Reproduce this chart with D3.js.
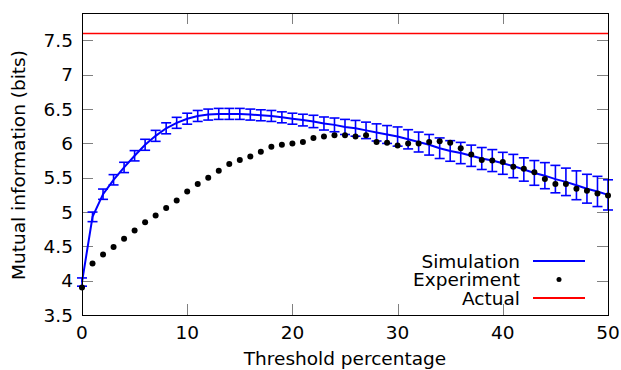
<!DOCTYPE html>
<html>
<head>
<meta charset="utf-8">
<style>
  body { margin: 0; background: #fff; }
  text { font-family: "DejaVu Sans", sans-serif; fill: #000; }
</style>
</head>
<body>
<svg width="621" height="370"></svg>
<script src="https://d3js.org/d3.v7.min.js"></script>
<script>
// threshold percentages 0..50
var thresholds = d3.range(0, 51);

var simulation = [3.98, 4.93, 5.26, 5.47, 5.65, 5.82, 5.98, 6.11, 6.22, 6.30,
  6.36, 6.40, 6.42, 6.43, 6.43, 6.43, 6.42, 6.41, 6.40, 6.38,
  6.36, 6.34, 6.32, 6.29, 6.27, 6.24, 6.22, 6.19, 6.16, 6.13,
  6.10, 6.06, 6.02, 5.98, 5.93, 5.89, 5.86, 5.82, 5.78, 5.75,
  5.71, 5.67, 5.62, 5.57, 5.53, 5.48, 5.44, 5.39, 5.34, 5.30, 5.25];

var simError = [0.06, 0.07, 0.075, 0.075, 0.075, 0.075, 0.08, 0.08, 0.08, 0.08,
  0.08, 0.08, 0.08, 0.08, 0.08, 0.08, 0.08, 0.08, 0.08, 0.08,
  0.08, 0.085, 0.09, 0.095, 0.10, 0.11, 0.115, 0.12, 0.125, 0.13,
  0.14, 0.14, 0.145, 0.15, 0.15, 0.15, 0.155, 0.155, 0.16, 0.16,
  0.16, 0.17, 0.17, 0.18, 0.19, 0.20, 0.20, 0.21, 0.21, 0.22, 0.22];

var experiment = [3.90, 4.25, 4.38, 4.49, 4.61, 4.73, 4.85, 4.95, 5.06, 5.17,
  5.30, 5.41, 5.50, 5.60, 5.70, 5.76, 5.81, 5.88, 5.95, 5.98,
  6.00, 6.02, 6.08, 6.10, 6.12, 6.12, 6.10, 6.12, 6.02, 6.01,
  5.97, 6.00, 6.00, 6.02, 6.03, 6.01, 5.93, 5.84, 5.76, 5.75,
  5.73, 5.66, 5.63, 5.58, 5.48, 5.41, 5.41, 5.34, 5.31, 5.27, 5.24];

var actual = 7.6;

var xTicks = [0, 10, 20, 30, 40, 50];
var yTicks = [3.5, 4, 4.5, 5, 5.5, 6, 6.5, 7, 7.5];

var svg = d3.select('svg');
var pLeft = 82, pRight = 608, pTop = 13, pBottom = 315;
var fs = 18.5;

var x = d3.scaleLinear().domain([0, 50]).range([pLeft, pRight]);
var y = d3.scaleLinear().domain([3.5, 7.9]).range([pBottom, pTop]);

var tickLen = 11;

// ticks (inward, mirrored)
var ticks = svg.append('g').attr('stroke', '#808080').attr('stroke-width', 1);
yTicks.forEach(function(v) {
  var yy = Math.round(y(v)) + 0.5;
  ticks.append('line').attr('x1', pLeft).attr('x2', pLeft + tickLen).attr('y1', yy).attr('y2', yy);
  ticks.append('line').attr('x1', pRight).attr('x2', pRight - tickLen).attr('y1', yy).attr('y2', yy);
});
xTicks.forEach(function(v) {
  var xx = Math.round(x(v)) + 0.5;
  ticks.append('line').attr('y1', pBottom).attr('y2', pBottom - tickLen).attr('x1', xx).attr('x2', xx);
  ticks.append('line').attr('y1', pTop).attr('y2', pTop + tickLen).attr('x1', xx).attr('x2', xx);
});

// tick labels
svg.append('g').selectAll('text').data(yTicks).enter().append('text')
  .attr('x', pLeft - 9).attr('y', function(d) { return y(d); })
  .attr('dy', '0.36em').attr('text-anchor', 'end').attr('font-size', fs)
  .text(function(d) { return d; });

svg.append('g').selectAll('text').data(xTicks).enter().append('text')
  .attr('x', function(d) { return x(d); }).attr('y', pBottom + 24)
  .attr('text-anchor', 'middle').attr('font-size', fs)
  .text(function(d) { return d; });

// axis titles
svg.append('text').attr('x', (pLeft + pRight) / 2).attr('y', 365)
  .attr('text-anchor', 'middle').attr('font-size', fs).text('Threshold percentage');
svg.append('text').attr('transform', 'translate(25,165) rotate(-90)')
  .attr('text-anchor', 'middle').attr('font-size', fs).text('Mutual information (bits)');

// actual line
svg.append('line').attr('x1', pLeft).attr('x2', pRight)
  .attr('y1', y(actual)).attr('y2', y(actual))
  .attr('stroke', '#ff0000').attr('stroke-width', 1.5);

// simulation error bars
var eb = svg.append('g').attr('stroke', '#0000ff').attr('stroke-width', 1.6);
thresholds.forEach(function(t, i) {
  var cx = x(t), lo = y(simulation[i] - simError[i]), hi = y(simulation[i] + simError[i]);
  eb.append('line').attr('x1', cx).attr('x2', cx).attr('y1', lo).attr('y2', hi);
  eb.append('line').attr('x1', cx - 5).attr('x2', cx + 5).attr('y1', lo).attr('y2', lo);
  eb.append('line').attr('x1', cx - 5).attr('x2', cx + 5).attr('y1', hi).attr('y2', hi);
});

var line = d3.line()
  .x(function(d, i) { return x(thresholds[i]); })
  .y(function(d) { return y(d); });

svg.append('path').datum(simulation).attr('d', line)
  .attr('fill', 'none').attr('stroke', '#0000ff').attr('stroke-width', 2);

// experiment dots
svg.append('g').selectAll('circle').data(experiment).enter().append('circle')
  .attr('cx', function(d, i) { return x(thresholds[i]); })
  .attr('cy', function(d) { return y(d); })
  .attr('r', 3).attr('fill', '#000');

// frame
svg.append('rect').attr('x', pLeft + 0.5).attr('y', pTop + 0.5)
  .attr('width', pRight - pLeft).attr('height', pBottom - pTop)
  .attr('fill', 'none').attr('stroke', '#000').attr('stroke-width', 1);

// legend
var legend = [
  { name: 'Simulation', type: 'line', color: '#0000ff' },
  { name: 'Experiment', type: 'dot', color: '#000' },
  { name: 'Actual', type: 'line', color: '#ff0000' }
];
legend.forEach(function(d, i) {
  var ly = 261 + i * 18.5;
  svg.append('text').attr('x', 520).attr('y', ly).attr('dy', '0.36em')
    .attr('text-anchor', 'end').attr('font-size', fs).text(d.name);
  if (d.type === 'line') {
    svg.append('line').attr('x1', 533).attr('x2', 585).attr('y1', ly).attr('y2', ly)
      .attr('stroke', d.color).attr('stroke-width', 2);
  } else {
    svg.append('circle').attr('cx', 559).attr('cy', ly).attr('r', 2.5).attr('fill', d.color);
  }
});
</script>
</body>
</html>
